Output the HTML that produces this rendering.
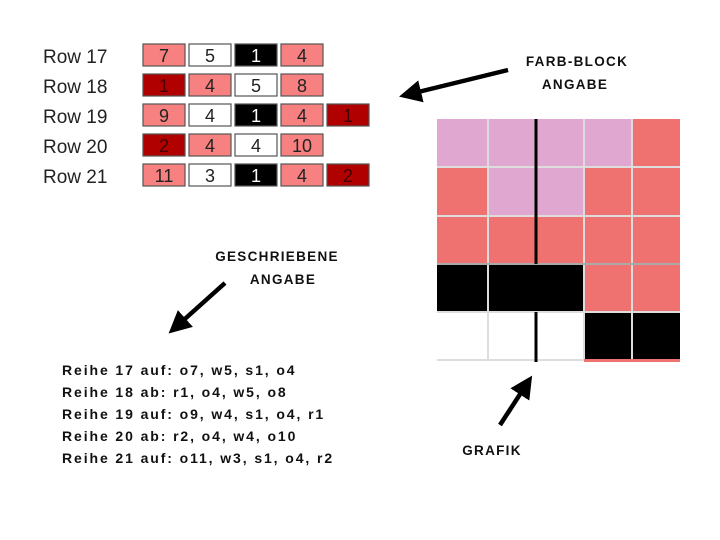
<!DOCTYPE html>
<html><head><style>
body{margin:0;background:#fff;width:720px;height:540px;overflow:hidden}
svg{display:block}
.rl{font-family:"Liberation Sans",sans-serif;font-size:19px;fill:#222}
.bn{font-family:"Liberation Sans",sans-serif;font-size:18px;text-anchor:middle}
.cm{font-family:"Liberation Sans",sans-serif;font-weight:bold;font-size:14px;letter-spacing:1.9px;fill:#111}
.lb{font-family:"Liberation Sans",sans-serif;font-weight:bold;font-size:13.5px;letter-spacing:1.3px;fill:#111;text-anchor:middle}
</style></head><body>
<svg width="720" height="540" viewBox="0 0 720 540">
<defs><marker id="ah" markerWidth="5" markerHeight="5" refX="2.5" refY="2.5" orient="auto" markerUnits="strokeWidth"><path d="M0,0 L5,2.5 L0,5 z" fill="#000"/></marker></defs>
<g class="rl">
<text x="43" y="63">Row 17</text><text x="43" y="93">Row 18</text><text x="43" y="123">Row 19</text><text x="43" y="153">Row 20</text><text x="43" y="183">Row 21</text>
</g>
<g stroke="#555" stroke-width="1.2">
<rect x="143" y="44" width="42" height="22" fill="#f78080"/><rect x="189" y="44" width="42" height="22" fill="#fff"/><rect x="235" y="44" width="42" height="22" fill="#000"/><rect x="281" y="44" width="42" height="22" fill="#f78080"/>
<rect x="143" y="74" width="42" height="22" fill="#b00000"/><rect x="189" y="74" width="42" height="22" fill="#f78080"/><rect x="235" y="74" width="42" height="22" fill="#fff"/><rect x="281" y="74" width="42" height="22" fill="#f78080"/>
<rect x="143" y="104" width="42" height="22" fill="#f78080"/><rect x="189" y="104" width="42" height="22" fill="#fff"/><rect x="235" y="104" width="42" height="22" fill="#000"/><rect x="281" y="104" width="42" height="22" fill="#f78080"/><rect x="327" y="104" width="42" height="22" fill="#b00000"/>
<rect x="143" y="134" width="42" height="22" fill="#b00000"/><rect x="189" y="134" width="42" height="22" fill="#f78080"/><rect x="235" y="134" width="42" height="22" fill="#fff"/><rect x="281" y="134" width="42" height="22" fill="#f78080"/>
<rect x="143" y="164" width="42" height="22" fill="#f78080"/><rect x="189" y="164" width="42" height="22" fill="#fff"/><rect x="235" y="164" width="42" height="22" fill="#000"/><rect x="281" y="164" width="42" height="22" fill="#f78080"/><rect x="327" y="164" width="42" height="22" fill="#b00000"/>
</g>
<g class="bn">
<text x="164" y="62" fill="#222">7</text><text x="210" y="62" fill="#222">5</text><text x="256" y="62" fill="#fff">1</text><text x="302" y="62" fill="#222">4</text>
<text x="164" y="92" fill="#400">1</text><text x="210" y="92" fill="#222">4</text><text x="256" y="92" fill="#222">5</text><text x="302" y="92" fill="#222">8</text>
<text x="164" y="122" fill="#222">9</text><text x="210" y="122" fill="#222">4</text><text x="256" y="122" fill="#fff">1</text><text x="302" y="122" fill="#222">4</text><text x="348" y="122" fill="#400">1</text>
<text x="164" y="152" fill="#400">2</text><text x="210" y="152" fill="#222">4</text><text x="256" y="152" fill="#222">4</text><text x="302" y="152" fill="#222">10</text>
<text x="164" y="182" fill="#222">11</text><text x="210" y="182" fill="#222">3</text><text x="256" y="182" fill="#fff">1</text><text x="302" y="182" fill="#222">4</text><text x="348" y="182" fill="#400">2</text>
</g>
<g>
<rect x="437" y="119" width="243" height="241" fill="#f07270"/>
<rect x="437" y="119" width="195" height="48" fill="#e0a8d0"/>
<rect x="488" y="167" width="96" height="49" fill="#e0a8d0"/>
<rect x="437" y="264" width="147" height="48" fill="#000"/>
<rect x="437" y="312" width="147" height="48" fill="#fff"/>
<rect x="584" y="312" width="96" height="48" fill="#000"/>
<g stroke="#ddd" stroke-width="2">
<line x1="488" y1="119" x2="488" y2="360"/><line x1="584" y1="119" x2="584" y2="360"/><line x1="632" y1="119" x2="632" y2="360"/>
<line x1="437" y1="167" x2="680" y2="167"/><line x1="437" y1="216" x2="680" y2="216"/><line x1="437" y1="312" x2="680" y2="312"/>
<line x1="437" y1="360" x2="584" y2="360"/>
</g>
<line x1="437" y1="264" x2="680" y2="264" stroke="#aaa" stroke-width="2"/>
<rect x="584" y="359" width="96" height="3" fill="#f07270"/>
<line x1="536" y1="119" x2="536" y2="264" stroke="#000" stroke-width="3"/>
<line x1="536" y1="312" x2="536" y2="362" stroke="#000" stroke-width="3"/>
</g>
<g stroke="#000" stroke-width="4.5" fill="none">
<line x1="508" y1="70" x2="410" y2="94" marker-end="url(#ah)"/>
<line x1="225" y1="283" x2="177" y2="326" marker-end="url(#ah)"/>
<line x1="500" y1="425" x2="526" y2="385" marker-end="url(#ah)"/>
</g>
<g class="lb">
<text x="577" y="66">FARB-BLOCK</text><text x="575" y="89">ANGABE</text>
<text x="277" y="261">GESCHRIEBENE</text><text x="283" y="284">ANGABE</text>
<text x="492" y="455">GRAFIK</text>
</g>
<g class="cm">
<text x="62" y="375">Reihe 17 auf: o7, w5, s1, o4</text>
<text x="62" y="397">Reihe 18 ab: r1, o4, w5, o8</text>
<text x="62" y="419">Reihe 19 auf: o9, w4, s1, o4, r1</text>
<text x="62" y="441">Reihe 20 ab: r2, o4, w4, o10</text>
<text x="62" y="463">Reihe 21 auf: o11, w3, s1, o4, r2</text>
</g>
</svg>
</body></html>
